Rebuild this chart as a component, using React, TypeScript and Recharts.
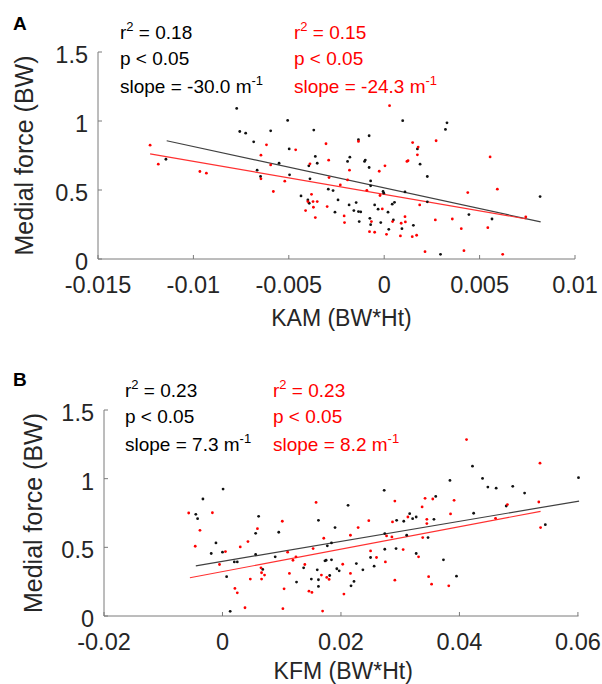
import { ScatterChart, Scatter, XAxis, YAxis, ReferenceLine, Label } from 'recharts';

const kamTicks = [-0.015, -0.01, -0.005, 0, 0.005, 0.01];
const kfmTicks = [-0.02, 0, 0.02, 0.04, 0.06];
const forceTicks = [0, 0.5, 1, 1.5];

// panel A: KAM vs medial force
const kamBlackX = [
    -0.00773, -0.00757, -0.00726, -0.00684, -0.00666, -0.00648, -0.00595, -0.00551, -0.00506, -0.00498,
    -0.00496, -0.00436, -0.004, -0.00395, -0.00393, -0.00389, -0.00369, -0.00361, -0.00351, -0.00293,
    -0.00268, -0.00258, -0.00242, -0.00192, -0.0018, -0.00184, -0.00159, -0.00147, -0.00135, -0.00135,
    -0.00131, -0.00123, -0.00103, -0.00099, -0.00079, -0.00079, -0.00071, -0.00071, -0.00075, -0.00071,
    -0.0005, -0.00032, -0.00018, -0.00006, -0.00002, 0.0002, 0.00024, 0.00042, 0.00048, 0.00054,
    0.00093, 0.00097, 0.00109, 0.00153, 0.00174, 0.00188, 0.00226, 0.00226, 0.00295, 0.00321,
    0.00329, 0.00444, 0.00565, 0.00817, -0.01144,
];
const kamBlackY = [
    1.091, 0.924, 0.912, 0.849, 0.644, 0.598, 0.929, 0.694, 1.004, 0.798,
    0.61, 0.457, 0.428, 0.675, 0.404, 0.581, 0.934, 0.743, 0.694, 0.506,
    0.496, 0.339, 0.428, 0.707, 0.738, 0.392, 0.351, 0.409, 0.864, 0.344,
    0.271, 0.341, 0.707, 0.717, 0.893, 0.663, 0.566, 0.53, 0.295, 0.249,
    0.392, 0.361, 0.264, 0.489, 0.477, 0.339, 0.215, 0.397, 0.283, 0.411,
    0.22, 1.002, 0.486, 0.244, 0.798, 0.687, 0.414, 0.598, 0.034, 0.939,
    0.987, 0.322, 0.29, 0.452, 0.723,
];
const kamRedX = [
    -0.01227, -0.01184, -0.00966, -0.00932, -0.00646, -0.00646, -0.00617, -0.00595, -0.00581, -0.00521,
    -0.00464, -0.00412, -0.004, -0.00389, -0.00381, -0.00373, -0.00371, -0.00361, -0.00351, -0.00305,
    -0.00299, -0.00291, -0.00289, -0.0023, -0.0021, -0.00208, -0.00192, -0.00182, -0.00135, -0.00091,
    -0.00077, -0.00067, -0.0005, -0.00026, -0.00022, -0.0001, 0.00004, 0.00012, 0.00028, 0.00044,
    0.00085, 0.00089, 0.00109, 0.00111, 0.00119, 0.00125, 0.00149, 0.00147, 0.0017, 0.00174,
    0.00178, 0.00186, 0.00214, 0.00268, 0.00272, 0.00357, 0.00404, 0.00418, 0.00438, 0.00543,
    0.00555, 0.00593, 0.00621, 0.00742,
];
const kamRedY = [
    0.825, 0.687, 0.634, 0.622, 0.581, 0.752, 0.827, 0.682, 0.489, 0.564,
    0.791, 0.351, 0.416, 0.69, 0.469, 0.416, 0.375, 0.3, 0.416, 0.835,
    0.38, 0.716, 0.59, 0.537, 0.312, 0.264, 0.573, 0.644, 0.852, 0.498,
    0.198, 0.271, 0.194, 0.636, 0.46, 0.363, 0.675, 0.179, 1.111, 0.271,
    0.167, 0.259, 0.307, 0.269, 0.707, 0.712, 0.844, 0.162, 0.172, 0.755,
    0.811, 0.392, 0.053, 0.283, 0.857, 0.29, 0.22, 0.06, 0.481, 0.227,
    0.74, 0.506, 0.034, 0.305,
];
const kamBlackFit = [
    { x: -0.0114, y: 0.857 },
    { x: 0.0082, y: 0.269 },
];
const kamRedFit = [
    { x: -0.01227, y: 0.762 },
    { x: 0.00745, y: 0.29 },
];

// panel B: KFM vs medial force
const kfmBlackX = [
    -0.0045, -0.0042, -0.0033, -0.0019, -0.0011, 0.0001, 0.0, 0.0007, 0.0013, 0.002,
    0.0025, 0.0056, 0.0061, 0.0056, 0.0068, 0.0089, 0.0095, 0.0125, 0.0137, 0.015,
    0.016, 0.0162, 0.0162, 0.0162, 0.0173, 0.0175, 0.0177, 0.0181, 0.0184, 0.019,
    0.0184, 0.0193, 0.0197, 0.0212, 0.0217, 0.0222, 0.0226, 0.0237, 0.025, 0.0256,
    0.0273, 0.0274, 0.0274, 0.0294, 0.0293, 0.0306, 0.0311, 0.0316, 0.0321, 0.0327,
    0.0327, 0.0347, 0.0357, 0.036, 0.0373, 0.0384, 0.0395, 0.0422, 0.0424, 0.0439,
    0.0448, 0.0462, 0.0479, 0.049, 0.051, 0.0545, 0.0601,
];
const kfmBlackY = [
    0.74, 0.709, 0.852, 0.455, 0.532, 0.924, 0.465, 0.286, 0.034, 0.394,
    0.394, 0.602, 0.726, 0.448, 0.339, 0.431, 0.61, 0.247, 0.351, 0.269,
    0.336, 0.697, 0.264, 0.215, 0.402, 0.406, 0.511, 0.295, 0.532, 0.644,
    0.409, 0.344, 0.329, 0.806, 0.22, 0.252, 0.382, 0.336, 0.426, 0.363,
    0.915, 0.6, 0.486, 0.697, 0.491, 0.69, 0.588, 0.745, 0.709, 0.721,
    0.455, 0.571, 0.704, 0.871, 0.409, 0.987, 0.29, 1.091, 0.748, 1.002,
    0.939, 0.931, 0.801, 0.944, 0.895, 0.665, 1.007,
];
const kfmRedX = [
    -0.0057, -0.0046, -0.0038, -0.0017, -0.0005, 0.0005, 0.0021, 0.0025, 0.003, 0.0038,
    0.0043, 0.0047, 0.0059, 0.0065, 0.0066, 0.0066, 0.0071, 0.0101, 0.0102, 0.0104,
    0.011, 0.0113, 0.0119, 0.0124, 0.0139, 0.0146, 0.0151, 0.0153, 0.0158, 0.0167,
    0.0169, 0.0171, 0.0176, 0.018, 0.0203, 0.0205, 0.0216, 0.0216, 0.0229, 0.0247,
    0.025, 0.026, 0.0275, 0.0277, 0.0286, 0.0287, 0.0291, 0.0291, 0.0305, 0.0313,
    0.0331, 0.0337, 0.0338, 0.0342, 0.0345, 0.0345, 0.0348, 0.0353, 0.0355, 0.0382,
    0.0385, 0.0391, 0.0412, 0.0461, 0.0481, 0.0536, 0.0534, 0.0537,
];
const kfmRedY = [
    0.75, 0.508, 0.624, 0.752, 0.375, 0.469, 0.201, 0.169, 0.503, 0.06,
    0.542, 0.269, 0.636, 0.351, 0.315, 0.269, 0.298, 0.69, 0.053, 0.198,
    0.465, 0.31, 0.406, 0.431, 0.375, 0.181, 0.172, 0.491, 0.827, 0.298,
    0.036, 0.566, 0.281, 0.266, 0.377, 0.16, 0.588, 0.31, 0.644, 0.694,
    0.474, 0.426, 0.394, 0.583, 0.576, 0.685, 0.837, 0.261, 0.484, 0.721,
    0.431, 0.794, 0.571, 0.857, 0.704, 0.673, 0.286, 0.232, 0.852, 0.22,
    0.743, 0.842, 1.285, 0.711, 0.811, 1.113, 0.83, 0.644,
];
const kfmBlackFit = [
    { x: -0.0045, y: 0.365 },
    { x: 0.0602, y: 0.837 },
];
const kfmRedFit = [
    { x: -0.0055, y: 0.278 },
    { x: 0.0537, y: 0.762 },
];

const AXIS = '#7a7a7a';
const TEXT = '#262626';
const BLACK = '#111111';
const RED = '#ff0000';

const zip = (xs: number[], ys: number[]) => xs.map((x, i) => ({ x, y: ys[i] }));

const dot = (color: string) => (props: any) => (
    <circle cx={props.cx} cy={props.cy} r={1.4} fill={color} />
);

interface PanelProps {
    ticks: number[];
    domain: [number, number];
    xLabel: string;
    xLabelDx: number;
    xLabelOffset: number;
    yLabelOffset: number;
    margin: { top: number; right: number; bottom: number; left: number };
    yWidth: number;
    black: { x: number; y: number }[];
    red: { x: number; y: number }[];
    blackFit: { x: number; y: number }[];
    redFit: { x: number; y: number }[];
}

function Panel(p: PanelProps) {
    return (
        <ScatterChart width={602} height={342} margin={p.margin}>
            <XAxis
                type="number"
                dataKey="x"
                domain={p.domain}
                ticks={p.ticks}
                interval={0}
                height={30}
                tickSize={-4}
                tickMargin={21}
                axisLine={{ stroke: AXIS }}
                tickLine={{ stroke: AXIS }}
                tick={{ fontSize: 23.5, fill: TEXT }}
                tickFormatter={(v: number) => String(v)}
            >
                <Label
                    value={p.xLabel}
                    position="bottom"
                    offset={p.xLabelOffset}
                    dx={p.xLabelDx}
                    style={{ fontSize: 23, fill: TEXT }}
                />
            </XAxis>
            <YAxis
                type="number"
                dataKey="y"
                domain={[0, 1.5]}
                ticks={forceTicks}
                interval={0}
                width={p.yWidth}
                tickSize={-4}
                tickMargin={14}
                axisLine={{ stroke: AXIS }}
                tickLine={{ stroke: AXIS }}
                tick={{ fontSize: 23.5, fill: TEXT, dy: 2.5 }}
                tickFormatter={(v: number) => String(v)}
            >
                <Label
                    value="Medial force (BW)"
                    angle={-90}
                    position="insideLeft"
                    offset={p.yLabelOffset}
                    style={{ fontSize: 25, fill: TEXT, textAnchor: 'middle' }}
                />
            </YAxis>
            <Scatter data={p.black} shape={dot(BLACK)} isAnimationActive={false} />
            <Scatter data={p.red} shape={dot(RED)} isAnimationActive={false} />
            <ReferenceLine
                segment={[p.blackFit[0], p.blackFit[1]]}
                ifOverflow="visible"
                stroke="#404040"
                strokeWidth={1.2}
            />
            <ReferenceLine
                segment={[p.redFit[0], p.redFit[1]]}
                ifOverflow="visible"
                stroke="#ff3030"
                strokeWidth={1.1}
            />
        </ScatterChart>
    );
}

function Stats(props: { x: number; y: number; color: string; r2: string; slope: string }) {
    const { x, y, color, r2, slope } = props;
    return (
        <g fill={color} fontSize={19}>
            <text x={x} y={y}>
                r<tspan dy={-8} fontSize={13}>2</tspan>
                <tspan dy={8}> = {r2}</tspan>
            </text>
            <text x={x} y={y + 26}>p &lt; 0.05</text>
            <text x={x} y={y + 54}>
                slope = {slope} m<tspan dy={-8} fontSize={13}>-1</tspan>
            </text>
        </g>
    );
}

export default function App() {
    return (
        <div
            style={{
                position: 'absolute',
                left: 0,
                top: 0,
                width: 602,
                height: 684,
                background: '#fff',
                fontFamily: '"Liberation Sans", Arial, sans-serif',
            }}
        >
            <Panel
                ticks={kamTicks}
                domain={[-0.015, 0.01]}
                xLabel="KAM (BW*Ht)"
                xLabelDx={5}
                xLabelOffset={21}
                yLabelOffset={24.5}
                margin={{ top: 52, right: 27, bottom: 53, left: 0 }}
                yWidth={98}
                black={zip(kamBlackX, kamBlackY)}
                red={zip(kamRedX, kamRedY)}
                blackFit={kamBlackFit}
                redFit={kamRedFit}
            />
            <Panel
                ticks={kfmTicks}
                domain={[-0.02, 0.06]}
                xLabel="KFM (BW*Ht)"
                xLabelDx={2}
                xLabelOffset={17}
                yLabelOffset={33.5}
                margin={{ top: 68, right: 23.5, bottom: 38, left: 0 }}
                yWidth={104}
                black={zip(kfmBlackX, kfmBlackY)}
                red={zip(kfmRedX, kfmRedY)}
                blackFit={kfmBlackFit}
                redFit={kfmRedFit}
            />
            <svg
                width={602}
                height={684}
                style={{ position: 'absolute', left: 0, top: 0, pointerEvents: 'none' }}
            >
                <text x={13} y={30} fontSize={19} fontWeight="bold" fill="#000">A</text>
                <text x={13} y={386} fontSize={19} fontWeight="bold" fill="#000">B</text>
                <Stats x={120} y={39} color="#000" r2="0.18" slope="-30.0" />
                <Stats x={294} y={39} color={RED} r2="0.15" slope="-24.3" />
                <Stats x={125} y={397} color="#000" r2="0.23" slope="7.3" />
                <Stats x={273} y={397} color={RED} r2="0.23" slope="8.2" />
            </svg>
        </div>
    );
}
